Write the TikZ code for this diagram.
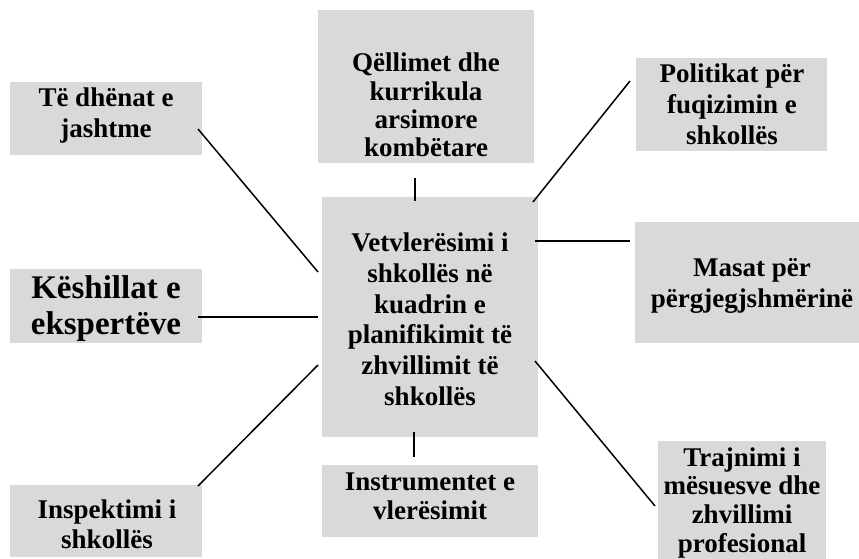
\documentclass[tikz,border=0pt]{standalone}
\usepackage{fontspec}
\setmainfont{Liberation Serif}
\definecolor{boxgray}{RGB}{217,217,217}
\begin{document}
\begin{tikzpicture}[x=1pt,y=-1pt,
  box/.style={fill=boxgray,draw=none,inner sep=0pt,anchor=north west},
  txt/.style={inner sep=0pt,anchor=north,align=center,font=\fontsize{27}{31}\selectfont\bfseries},
  conn/.style={draw=black,line width=1.5pt}]
\useasboundingbox (0,0) rectangle (859,559);
% boxes
\node[box,minimum width=192pt,minimum height=73pt] (tl) at (10,82) {};
\node[box,minimum width=216pt,minimum height=153pt] (tc) at (318,10) {};
\node[box,minimum width=191pt,minimum height=93pt] (tr) at (636,58) {};
\node[box,minimum width=192pt,minimum height=74pt] (ml) at (10,269) {};
\node[box,minimum width=216pt,minimum height=240pt] (c) at (322,197) {};
\node[box,minimum width=226pt,minimum height=121pt] (mr) at (635,222) {};
\node[box,minimum width=192pt,minimum height=72pt] (bl) at (10,485) {};
\node[box,minimum width=216pt,minimum height=72pt] (bc) at (322,465) {};
\node[box,minimum width=168pt,minimum height=125pt] (br) at (658,441) {};
% texts
\node[txt] (tlt) at (106,84.3) {\strut Të dhënat e\\jashtme};
\node[txt,font=\fontsize{27}{28.3}\selectfont\bfseries] (tct) at (426,51.9) {\strut Qëllimet dhe\\kurrikula\\arsimore\\kombëtare};
\node[txt] (trt) at (732,60.3) {\strut Politikat për\\fuqizimin e\\shkollës};
\node[txt,font=\fontsize{33}{36}\selectfont\bfseries] (mlt) at (106,272.8) {\strut Këshillat e\\ekspertëve};
\node[txt,font=\fontsize{27}{30.7}\selectfont\bfseries] (ct) at (430,230.2) {\strut Vetvlerësimi i\\shkollës në\\kuadrin e\\planifikimit të\\zhvillimit të\\shkollës};
\node[txt] (mrt) at (752,255) {\strut Masat për\\përgjegjshmërinë};
\node[txt,font=\fontsize{27}{30}\selectfont\bfseries] (blt) at (107,497) {\strut Inspektimi i\\shkollës};
\node[txt,font=\fontsize{27}{29.3}\selectfont\bfseries] (bct) at (430,469.5) {\strut Instrumentet e\\vlerësimit};
\node[txt,font=\fontsize{27}{28.6}\selectfont\bfseries] (brt) at (742,446) {\strut Trajnimi i\\mësuesve dhe\\zhvillimi\\profesional};
% connector end points
\coordinate (p1a) at (198,129); \coordinate (p1b) at (318,272);
\coordinate (p2a) at (415,178); \coordinate (p2b) at (415,201);
\coordinate (p3a) at (630,81);  \coordinate (p3b) at (533,202);
\coordinate (p4a) at (198,317); \coordinate (p4b) at (318,317);
\coordinate (p5a) at (535,241); \coordinate (p5b) at (630,241);
\coordinate (p6a) at (318,365); \coordinate (p6b) at (198,486);
\coordinate (p7a) at (414,432); \coordinate (p7b) at (414,457);
\coordinate (p8a) at (535,361); \coordinate (p8b) at (655,506);
% connectors
\draw[conn] (p1a) -- (p1b);
\draw[conn] (p2a) -- (p2b);
\draw[conn] (p3a) -- (p3b);
\draw[conn] (p4a) -- (p4b);
\draw[conn] (p5a) -- (p5b);
\draw[conn] (p6a) -- (p6b);
\draw[conn] (p7a) -- (p7b);
\draw[conn] (p8a) -- (p8b);
\end{tikzpicture}
\end{document}
